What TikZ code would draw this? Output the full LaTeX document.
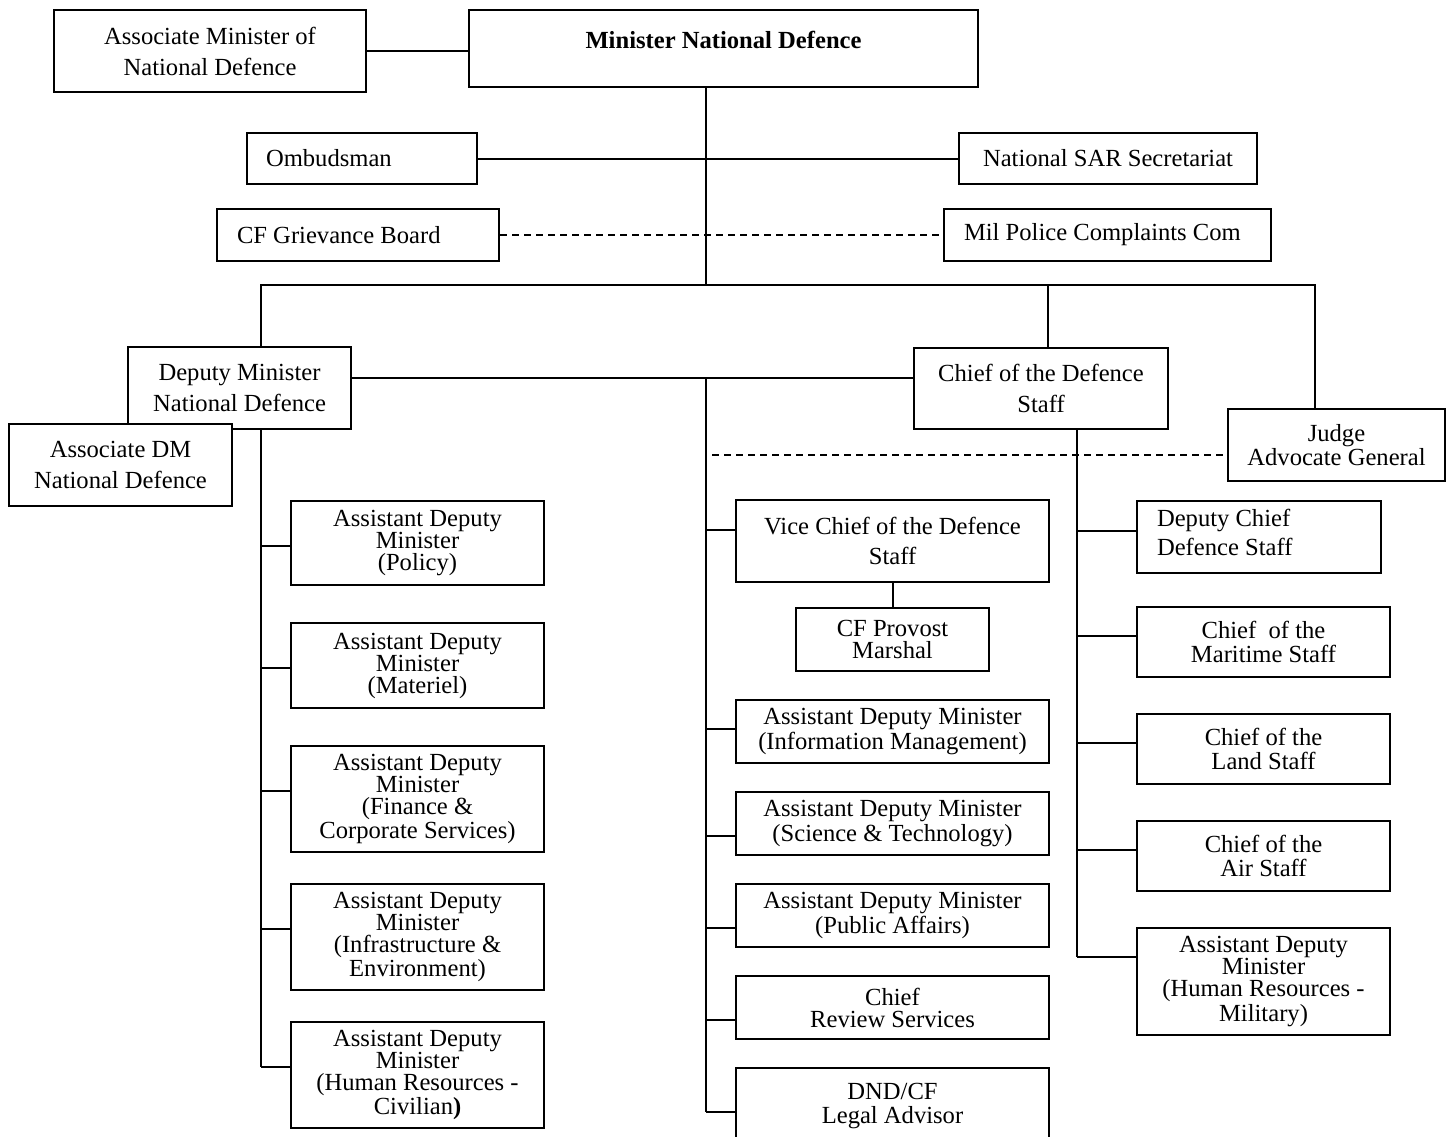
\documentclass[tikz,border=0pt]{standalone}
\usepackage{fontspec}
\setmainfont{Liberation Serif}

\newcommand{\wideset}{\fontsize{12.3}{15.5}\selectfont}
\newcommand{\midset}{\fontsize{12.3}{12}\selectfont}
\newcommand{\tightset}{\fontsize{12.3}{11}\selectfont}

\tikzset{
	unit/.style={draw, fill=white, line width=1pt, inner sep=0pt, anchor=north west, align=center, font=\wideset},
	link/.style={line width=1pt},
	dashlink/.style={line width=1pt, dash pattern=on 3.5pt off 2.5pt},
}

\begin{document}
\begin{tikzpicture}[x=0.5pt, y=-0.5pt]
			%%%%% START %%%%%
			\useasboundingbox (0,0) rectangle (1450,1136);
			
			% minister level
			\node[unit, minimum width=156pt, minimum height=41pt] (assocmin) at (53,9) {Associate Minister of\\National Defence};
			\node[unit, minimum width=254.5pt, minimum height=38.5pt, text height=8.5pt, text depth=9pt] (minister) at (468,9) {\textbf{Minister National Defence}};
			
			\node[unit, minimum height=25.5pt, align=flush left, text width=96pt, inner xsep=9.5pt] (ombud) at (246,132) {Ombudsman};
			\node[unit, minimum width=149pt, minimum height=25.5pt] (sar) at (958,132) {National SAR Secretariat};
			\node[unit, minimum height=26pt, align=flush left, text width=121pt, inner xsep=10pt] (griev) at (216,208) {CF Grievance Board};
			\node[unit, minimum height=26pt, align=flush left, text width=143.5pt, inner xsep=10pt] (milpol) at (943,208) {Mil Police Complaints Com};
			
			% DM and CDS
			\node[unit, minimum width=111.5pt, minimum height=41pt] (dm) at (127,346) {Deputy Minister\\National Defence};
			\node[unit, minimum width=127pt, minimum height=40.5pt] (cds) at (913,347) {Chief of the Defence\\Staff};
			\node[unit, minimum width=108.5pt, minimum height=36pt, font=\midset] (jag) at (1227,408) {Judge\\Advocate General};
			\node[unit, minimum width=111.5pt, minimum height=41pt] (assocdm) at (8,423) {Associate DM\\National Defence};
			
			% DM column
			\node[unit, minimum width=126.5pt, minimum height=42pt, font=\tightset] (adm1) at (290,500) {Assistant Deputy\\Minister\\(Policy)};
			\node[unit, minimum width=126.5pt, minimum height=42.5pt, font=\tightset] (adm2) at (290,622) {Assistant Deputy\\Minister\\(Materiel)};
			\node[unit, minimum width=126.5pt, minimum height=53pt, font=\tightset] (adm3) at (290,745) {Assistant Deputy\\Minister\\(Finance \&\\Corporate Services)};
			\node[unit, minimum width=126.5pt, minimum height=53pt, font=\tightset] (adm4) at (290,883) {Assistant Deputy\\Minister\\(Infrastructure \&\\Environment)};
			\node[unit, minimum width=126.5pt, minimum height=53pt, font=\tightset] (adm5) at (290,1021) {Assistant Deputy\\Minister\\(Human Resources -\\Civilian\textbf{)}};
			
			% centre column
			\node[unit, minimum width=156.5pt, minimum height=41pt, font=\fontsize{12.3}{15}\selectfont] (vcds) at (735,499) {Vice Chief of the Defence\\Staff};
			\node[unit, minimum width=96.5pt, minimum height=31.5pt, font=\tightset] (provost) at (795,607) {CF Provost\\Marshal};
			\node[unit, minimum width=156.5pt, minimum height=31.5pt, font=\tightset] (admim) at (735,699) {Assistant Deputy Minister\\(Information Management)};
			\node[unit, minimum width=156.5pt, minimum height=31.5pt, font=\tightset] (admst) at (735,791) {Assistant Deputy Minister\\(Science \& Technology)};
			\node[unit, minimum width=156.5pt, minimum height=31.5pt, font=\tightset] (admpa) at (735,883) {Assistant Deputy Minister\\(Public Affairs)};
			\node[unit, minimum width=156.5pt, minimum height=31.5pt, font=\tightset] (crs) at (735,975) {Chief\\Review Services};
			\node[unit, minimum width=156.5pt, minimum height=38pt, font=\midset] (legal) at (735,1067) {DND/CF\\Legal Advisor};
			
			% CDS column
			\node[unit, minimum height=36pt, align=flush left, text width=102pt, inner xsep=10pt, text depth=19.5pt, font=\fontsize{12.3}{14.5}\selectfont] (dcds) at (1136,500) {Deputy Chief\\Defence Staff};
			\node[unit, minimum width=126.5pt, minimum height=35pt, font=\midset] (cms) at (1136,606) {Chief\ \ of the\\Maritime Staff};
			\node[unit, minimum width=126.5pt, minimum height=35pt, font=\midset] (cls) at (1136,713) {Chief of the\\Land Staff};
			\node[unit, minimum width=126.5pt, minimum height=35pt, font=\midset] (cas) at (1136,820) {Chief of the\\Air Staff};
			\node[unit, minimum width=126.5pt, minimum height=53.5pt, font=\tightset] (admhrm) at (1136,927) {Assistant Deputy\\Minister\\(Human Resources -\\Military)};
			
			% top links
			\coordinate (hub) at (706,285);
			\coordinate (busleft) at (261,285);
			\coordinate (busright) at (1315,285);
			\coordinate (cdsdrop) at (1048,285);
			\draw[link] (assocmin.east) -- (assocmin.east -| minister.west);
			\draw[link] (minister.south -| hub) -- (hub);
			\draw[link] (ombud) -- (sar);
			\draw[dashlink] (griev) -- (milpol);
			\draw[link] (dm.north -| busleft) -- (busleft) -- (busright) -- (jag.north -| busright);
			\draw[link] (cdsdrop) -- (cds.north -| cdsdrop);
			
			% DM spine
			\coordinate (dmspine) at (261,0);
			\foreach \n/\y in {adm1/546, adm2/668, adm3/791, adm4/929, adm5/1067}
				\draw[link] (261,\y) coordinate (b\n) -- (b\n -| \n.west);
			\draw[link] (dm.south -| dmspine) -- (badm5);
			
			% centre spine
			\coordinate (midbus) at (706,378);
			\draw[link] (dm.east |- midbus) -- (cds.west |- midbus);
			\foreach \n/\y in {vcds/530, admim/729, admst/836, admpa/928, crs/1020, legal/1112}
				\draw[link] (706,\y) coordinate (c\n) -- (c\n -| \n.west);
			\draw[link] (midbus) -- (clegal);
			\draw[link] (vcds.south) -- (provost.north);
			
			% CDS spine
			\coordinate (cdsspine) at (1077,0);
			\foreach \n/\y in {dcds/531, cms/636, cls/743, cas/850, admhrm/957}
				\draw[link] (1077,\y) coordinate (r\n) -- (r\n -| \n.west);
			\draw[link] (cds.south -| cdsspine) -- (radmhrm);
			
			% JAG dotted tie
			\coordinate (jagdash) at (712,455);
			\draw[dashlink] (jagdash) -- (jagdash -| jag.west);
			
			%%%%% END %%%%%
\end{tikzpicture}
\end{document}
